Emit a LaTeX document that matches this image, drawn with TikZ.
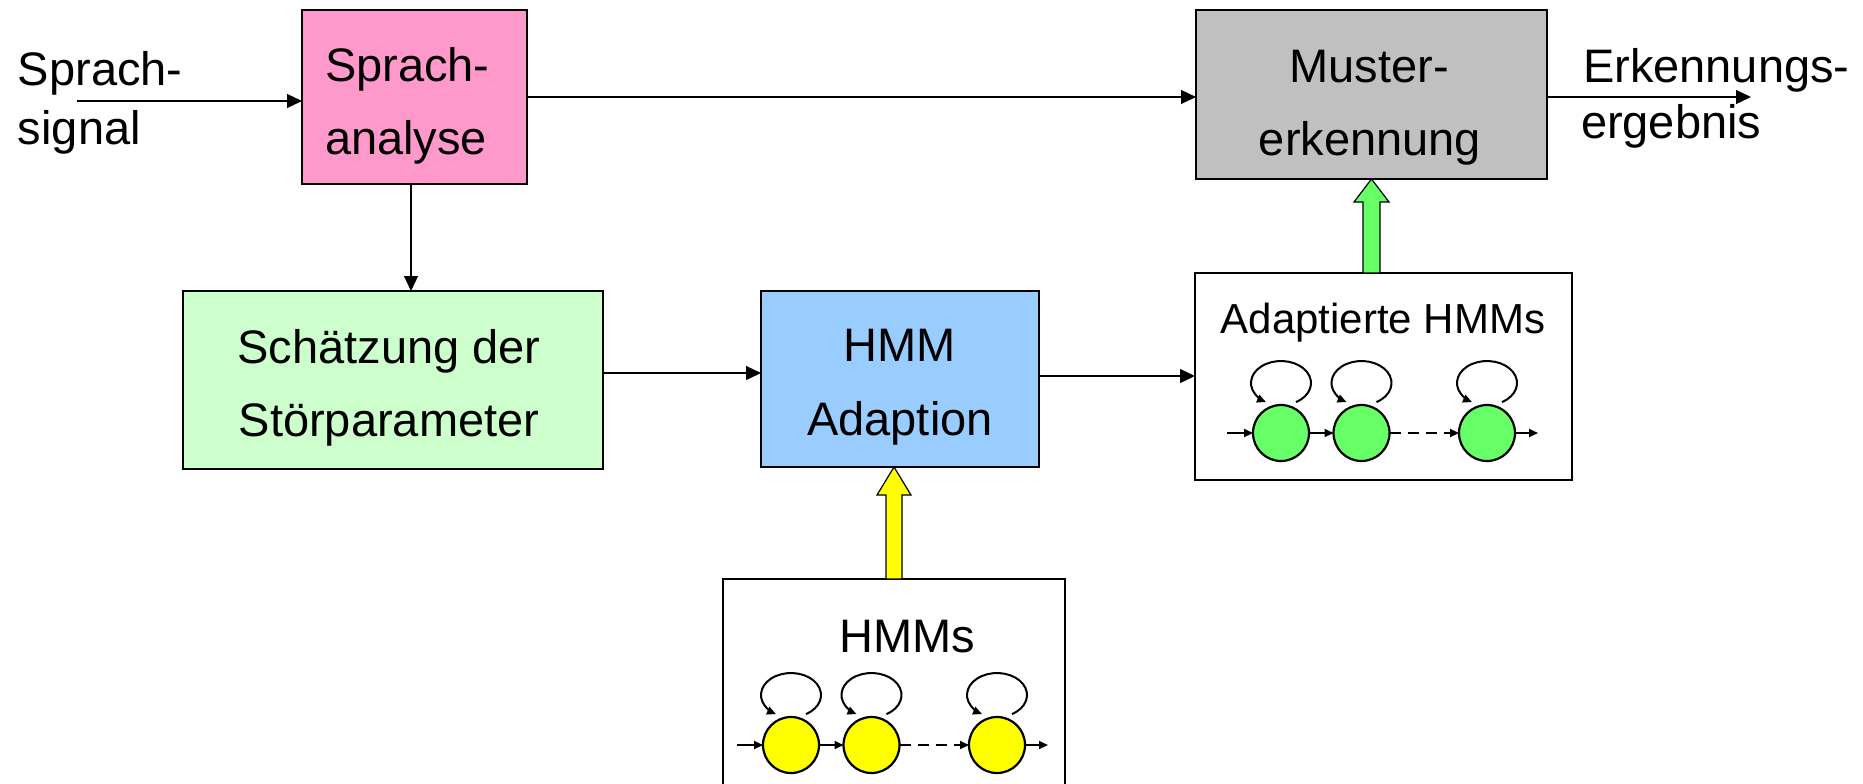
\documentclass[tikz,border=0pt]{standalone}
\usepackage{fontspec}
\setmainfont{Liberation Sans}
\usetikzlibrary{arrows.meta,calc}
\definecolor{cpink}{HTML}{FF99CC}
\definecolor{cgreenl}{HTML}{CCFFCC}
\definecolor{cblue}{HTML}{99CCFF}
\definecolor{cgray}{HTML}{C0C0C0}
\definecolor{cgreen}{HTML}{66FF66}
\definecolor{cyellow}{HTML}{FFFF00}
\newcommand\hmmchain[3]{%
 \begin{scope}[shift={#2}]
  \node[st, fill=#3] (#1a) at (0,0) {};
  \node[st, fill=#3] (#1b) at (80.5,0) {};
  \node[st, fill=#3] (#1c) at (206,0) {};
  \coordinate (#1in) at (-54,0);
  \coordinate (#1out) at (257,0);
  \draw[sarr] (#1in) -- (#1a);
  \draw[sarr] (#1a) -- (#1b);
  \draw[sarr, dash pattern=on 5.5pt off 3.5pt] (#1b) -- (#1c);
  \draw[sarr] (#1c) -- (#1out);
  \foreach \n in {a,b,c} \draw[sarr] ($(#1\n)+(7.5pt,15.47pt)$) arc[start angle=-60,end angle=240,x radius=15pt,y radius=11pt];
 \end{scope}}
\newcommand\fatarrow[6]{%
 \draw[fat, fill=#3] let \p1=(#1), \p2=(#2) in
  (\x1-#4,\y1) -- (\x1-#4,\y2-#6) -- (\x1-#5,\y2-#6) -- (\x1,\y2)
  -- (\x1+#5,\y2-#6) -- (\x1+#4,\y2-#6) -- (\x1+#4,\y1) -- cycle;}
\begin{document}
\begin{tikzpicture}[x=0.5pt,y=-0.5pt,
 blk/.style={draw, line width=0.8pt, inner sep=0, outer sep=0},
 txt/.style={inner sep=0, outer sep=0, font=\fontsize{23.5}{28}\selectfont},
 stxt/.style={inner sep=0, outer sep=0, font=\fontsize{21}{25}\selectfont},
 arr/.style={line width=0.6pt, -{Triangle[length=7.5pt,width=7pt]}},
 st/.style={circle, draw, line width=1.1pt, minimum size=28pt, inner sep=0, outer sep=0},
 sarr/.style={line width=1pt, -{Triangle[length=4.5pt,width=4pt]}},
 fat/.style={draw, line width=0.6pt, line join=miter}]
\useasboundingbox (0,0) rectangle (1863,783);
\clip (0,0) rectangle (1863,783);
\fill[white] (0,0) rectangle (1863,783);
% boxes
\node[blk, fill=cpink, minimum width=112.5pt, minimum height=87pt] (SA) at (414.5,97) {};
\node[blk, fill=cgray, minimum width=175.5pt, minimum height=84.5pt] (Mu) at (1371.5,94.5) {};
\node[blk, fill=cgreenl, minimum width=210pt, minimum height=89pt] (Sch) at (393,380) {};
\node[blk, fill=cblue, minimum width=139pt, minimum height=88pt] (HA) at (900,379) {};
\node[blk, fill=white, minimum width=188.5pt, minimum height=103.5pt] (AD) at (1383.5,376.5) {};
\node[blk, fill=white, minimum width=171pt, minimum height=110.5pt] (HM) at (894,689.5) {};
% texts
\node[txt, anchor=base west] (lin1) at (18,85) {Sprach-};
\node[txt, anchor=base west] (lin2) at (18,144) {signal};
\node[txt, anchor=base west] (sa1) at (325,81) {Sprach-};
\node[txt, anchor=base west] (sa2) at (325,154) {analyse};
\node[txt, anchor=base] (mu1) at (1369,82) {Muster-};
\node[txt, anchor=base] (mu2) at (1370,155) {erkennung};
\node[txt, anchor=base] (sc1) at (389,363) {Schätzung der};
\node[txt, anchor=base] (sc2) at (389,436) {Störparameter};
\node[txt, anchor=base] (ha1) at (900,361) {HMM};
\node[txt, anchor=base] (ha2) at (900,435) {Adaption};
\node[txt, anchor=base west] (out1) at (1583,82) {Erkennungs-};
\node[txt, anchor=base west] (out2) at (1581,138) {ergebnis};
\node[stxt, anchor=base] (adt) at (1383,333) {Adaptierte HMMs};
\node[txt, anchor=base] (hmt) at (907,652) {HMMs};
% connectors
\coordinate (inS) at (77,101);
\draw[arr] (inS) -- (inS -| SA.west);
\draw[arr] (SA.east) -- (SA.east -| Mu.west);
\coordinate (outE) at (1751,97);
\draw[arr] (outE -| Mu.east) -- (outE);
\coordinate (sad) at ([xshift=-1.75pt]SA.south);
\draw[arr] (sad) -- (sad |- Sch.north);
\coordinate (sce) at ([yshift=3.5pt]Sch.east);
\draw[arr] (sce) -- (sce -| HA.west);
\coordinate (hae) at ([yshift=1.5pt]HA.east);
\draw[arr] (hae) -- (hae -| AD.west);
% fat arrows
\coordinate (ytip) at (HM.north |- HA.south);
\fatarrow{HM.north}{ytip}{cyellow}{4pt}{8.5pt}{14pt}
\coordinate (gbot) at (Mu.south |- AD.north);
\fatarrow{gbot}{Mu.south}{cgreen}{4.25pt}{8.75pt}{11.5pt}
% HMM chains
\hmmchain{g}{(1281,433)}{cgreen}
\hmmchain{y}{(791,745)}{cyellow}
\end{tikzpicture}
\end{document}
